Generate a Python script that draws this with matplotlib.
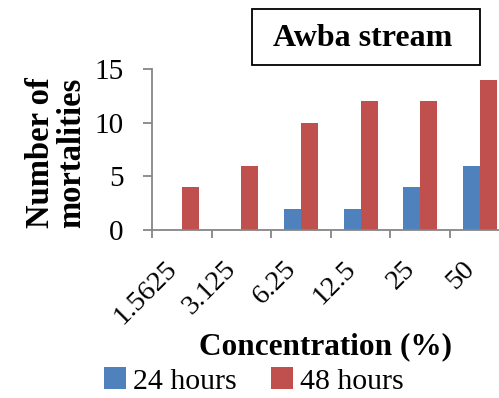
import matplotlib
matplotlib.use("Agg")
import matplotlib.pyplot as plt
from matplotlib.patches import Rectangle
from matplotlib.transforms import ScaledTranslation
import numpy as np

categories = ["1.5625", "3.125", "6.25", "12.5", "25", "50"]
hours24 = [0, 0, 2, 2, 4, 6]
hours48 = [4, 6, 10, 12, 12, 14]
yticks = [0, 5, 10, 15]

BLUE = "#4F81BD"
RED = "#C0504D"
GRAY = "#868686"
plt.rcParams['font.family'] = ['Liberation Serif', 'DejaVu Serif']

W, H = 499, 398
fig = plt.figure(figsize=(W / 100, H / 100), dpi=100)
fig.patch.set_facecolor("white")

# axes: left 152px, right ~509.6px (clipped), top 69px, bottom 230px
x0, x1, ytop, ybot = 152, 509.6, 69, 230
ax = fig.add_axes([x0 / W, 1 - ybot / H, (x1 - x0) / W, (ybot - ytop) / H])

x = np.arange(len(categories))
bw = 17 / 59.6
ax.bar(x - bw / 2, hours24, width=bw, color=BLUE, label="24 hours")
ax.bar(x + bw / 2, hours48, width=bw, color=RED, label="48 hours")

ax.set_xlim(-0.5, len(categories) - 0.5)
ax.set_ylim(0, 15)
ax.set_yticks(yticks)
ax.set_yticklabels([str(v) for v in yticks], fontsize=21)

ax.set_xticks(np.arange(len(categories) + 1) - 0.5)
ax.set_xticklabels([])
ax.set_xticks(x, minor=True)
ax.set_xticklabels(categories, minor=True, rotation=45, ha="right", fontsize=20.5)
offset = ScaledTranslation(3 / 100, 0, fig.dpi_scale_trans)
for lbl in ax.get_xticklabels(minor=True):
    lbl.set_transform(lbl.get_transform() + offset)
ax.tick_params(axis="x", which="minor", length=0, pad=19)
ax.tick_params(axis="x", which="major", length=6, color=GRAY, width=1.3, direction="out")
ax.tick_params(axis="y", length=6.5, color=GRAY, width=1.3, pad=14)

for s in ["top", "right"]:
    ax.spines[s].set_visible(False)
for s in ["left", "bottom"]:
    ax.spines[s].set_color(GRAY)
    ax.spines[s].set_linewidth(1.3)

# y label
fig.text(56 / W, 1 - 153 / H, "Number of\nmortalities", rotation=90,
         ha="center", va="center", fontsize=23.5, fontweight="bold", linespacing=1.0)
# x label
fig.text(325.5 / W, 1 - 347 / H, "Concentration (%)", ha="center", va="center",
         fontsize=22.5, fontweight="bold")

# title box
fig.patches.append(Rectangle((252 / W, 1 - 65 / H), (480 - 252) / W, (65 - 9) / H,
                             transform=fig.transFigure, fill=False,
                             edgecolor="black", linewidth=1.3))
fig.text(363 / W, 1 - 38 / H, "Awba stream", ha="center", va="center",
         fontsize=23, fontweight="bold")

# legend
handles, labels = ax.get_legend_handles_labels()
fig.legend(handles, labels, loc="center", bbox_to_anchor=(254 / W, 1 - 381 / H),
           ncol=2, frameon=False, fontsize=21.5, handlelength=0.72, handleheight=0.72,
           handletextpad=0.25, columnspacing=1.15, borderaxespad=0, borderpad=0)

fig.savefig("out.png", dpi=100, facecolor="white")
